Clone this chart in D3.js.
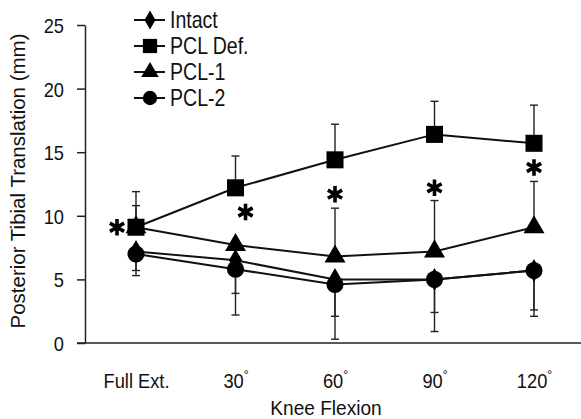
<!DOCTYPE html>
<html>
<head>
<meta charset="utf-8">
<script src="https://cdn.jsdelivr.net/npm/d3@7"></script>
<style>
  body { margin: 0; background: #fff; }
  text { font-family: "Liberation Sans", Arial, sans-serif; fill: #111; }
</style>
</head>
<body>
<svg id="chart" width="581" height="419"></svg>
<script>
const categories = ['Full Ext.', '30', '60', '90', '120'];
const seriesNames = ['Intact', 'PCL Def.', 'PCL-1', 'PCL-2'];

const intact = [7.2, 6.5, 5.0, 5.0, 5.7];
const pclDef = [9.1, 12.2, 14.4, 16.4, 15.7];
const pcl1 = [9.1, 7.7, 6.8, 7.2, 9.1];
const pcl2 = [7.0, 5.8, 4.6, 5.0, 5.7];

// end of each error bar (PCL Def. and PCL-1 go up, the others down)
const intactErr = [5.7, 3.9, 2.1, 2.4, 2.6];
const pclDefErr = [11.9, 14.7, 17.2, 19.0, 18.7];
const pcl1Err = [10.8, 7.7, 10.6, 11.2, 12.7];
const pcl2Err = [5.3, 2.2, 0.3, 0.9, 2.1];

// significance marks
const starValues = [9.1, 10.3, 11.7, 12.2, 13.8];

const yTicks = [0, 5, 10, 15, 20, 25];

const width = 581;
const height = 419;

const svg = d3.select('#chart');

const xscale = d3.scalePoint()
  .domain(categories)
  .range([136, 534]);

const yscale = d3.scaleLinear()
  .domain([0, 25])
  .range([343, 25]);

// the original type is a narrow grotesque, squeeze Liberation Sans a bit
const narrow = 0.87;

// axes
const leftAxis = d3.axisLeft(yscale)
  .tickValues(yTicks)
  .tickSize(8)
  .tickPadding(0)
  .tickSizeOuter(0);
const gy = svg.append('g')
  .attr('transform', 'translate(85, 0)')
  .call(leftAxis);
gy.selectAll('text')
  .attr('x', 0)
  .attr('dy', '0.36em')
  .attr('transform', `translate(-21, 0) scale(${narrow}, 1)`)
  .style('font-size', '21px');
gy.selectAll('line, path').attr('stroke', '#222').attr('stroke-width', 1.5);

svg.append('line')
  .attr('x1', 77).attr('x2', width)
  .attr('y1', yscale(0)).attr('y2', yscale(0))
  .attr('stroke', '#222').attr('stroke-width', 1.5);

const bottomAxis = d3.axisBottom(xscale).tickSize(0).tickPadding(0).tickFormat('');
const gx = svg.append('g')
  .attr('transform', 'translate(0, 388)')
  .call(bottomAxis);
gx.select('.domain').remove();
gx.selectAll('.tick').each(function (d) {
  const t = d3.select(this).append('text')
    .attr('text-anchor', 'middle')
    .attr('transform', `scale(${narrow}, 1)`)
    .style('font-size', '21px');
  if (d === 'Full Ext.') {
    t.text(d);
  } else {
    t.append('tspan').text(d);
    t.append('tspan').text('°').style('font-size', '14px').attr('dy', '-8');
  }
});

svg.append('text')
  .text('Knee Flexion')
  .attr('transform', 'translate(326, 415) scale(0.91, 1)')
  .attr('text-anchor', 'middle')
  .style('font-size', '21px');

svg.append('text')
  .text('Posterior Tibial Translation (mm)')
  .attr('transform', 'translate(25, 181) rotate(-90)')
  .attr('text-anchor', 'middle')
  .style('font-size', '20.5px');

// error bars
const errSets = [
  { vals: pclDef, ends: pclDefErr },
  { vals: pcl1, ends: pcl1Err },
  { vals: intact, ends: intactErr },
  { vals: pcl2, ends: pcl2Err }
];
const errG = svg.append('g').attr('stroke', '#222').attr('stroke-width', 1.4);
errSets.forEach((s) => {
  s.ends.forEach((e, i) => {
    const cx = xscale(categories[i]);
    errG.append('line')
      .attr('x1', cx).attr('x2', cx)
      .attr('y1', yscale(s.vals[i])).attr('y2', yscale(e));
    errG.append('line')
      .attr('x1', cx - 4).attr('x2', cx + 4)
      .attr('y1', yscale(e)).attr('y2', yscale(e));
  });
});

// series lines and markers
const series = [
  { name: 'Intact', vals: intact, symbol: d3.symbolDiamond, size: 150 },
  { name: 'PCL Def.', vals: pclDef, symbol: d3.symbolSquare, size: 290 },
  { name: 'PCL-1', vals: pcl1, symbol: d3.symbolTriangle, size: 190 },
  { name: 'PCL-2', vals: pcl2, symbol: d3.symbolCircle, size: 230 }
];

const line = d3.line()
  .x((d, i) => xscale(categories[i]))
  .y((d) => yscale(d));

series.forEach((s) => {
  svg.append('path')
    .datum(s.vals)
    .attr('fill', 'none')
    .attr('stroke', '#111')
    .attr('stroke-width', 2)
    .attr('d', line);
});

series.forEach((s) => {
  svg.append('g')
    .selectAll('path')
    .data(s.vals)
    .enter()
    .append('path')
    .attr('fill', '#000')
    .attr('d', d3.symbol().type(s.symbol).size(s.size))
    .attr('transform', (d, i) => `translate(${xscale(categories[i])}, ${yscale(d)})`);
});

// asterisks
const starOffsets = [-19, 10, 0, 0, 0];
svg.append('g')
  .selectAll('path')
  .data(starValues)
  .enter()
  .append('path')
  .attr('fill', 'none')
  .attr('stroke', '#000')
  .attr('stroke-width', 3.6)
  .attr('d', d3.symbol().type(d3.symbolAsterisk).size(190))
  .attr('transform', (d, i) => `translate(${xscale(categories[i]) + starOffsets[i]}, ${yscale(d)})`);

// legend
const legend = svg.append('g')
  .selectAll('g')
  .data(series)
  .enter()
  .append('g')
  .attr('transform', (d, i) => `translate(0, ${20 + i * 26})`);
legend.append('line')
  .attr('x1', 134).attr('x2', 165)
  .attr('stroke', '#111').attr('stroke-width', 2);
legend.append('path')
  .attr('fill', '#000')
  .attr('d', (d) => d3.symbol().type(d.symbol).size(d.size * 0.7)())
  .attr('transform', 'translate(150, 0)');
legend.append('text')
  .text((d) => d.name)
  .attr('dy', '0.36em')
  .attr('transform', 'translate(170, 0) scale(0.85, 1)')
  .style('font-size', '23px');
</script>
</body>
</html>
